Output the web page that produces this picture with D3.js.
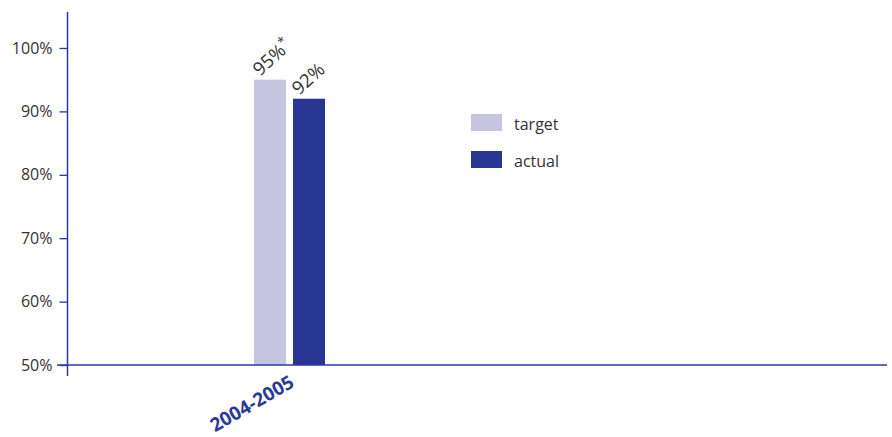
<!DOCTYPE html>
<html>
<head>
<meta charset="utf-8">
<script src="https://cdn.jsdelivr.net/npm/d3@7"></script>
<style>
  body { margin: 0; background: #fff; }
  text { font-family: "Open Sans", "Noto Sans", sans-serif; }
</style>
</head>
<body>
<div id="chart"></div>
<script>
// Data
const categories = ['2004-2005'];
const seriesNames = ['target', 'actual'];
const targetValues = [95];
const actualValues = [92];
const valueLabels = { target: ['95%'], actual: ['92%'] };
const labelMarks = { target: ['*'], actual: [''] };
const yTicks = [50, 60, 70, 80, 90, 100];

const width = 892, height = 437;
const colors = { target: '#c5c5e1', actual: '#283593' };
const axisColor = '#2b3a9a';
const textColor = '#333333';

const svg = d3.select('#chart').append('svg')
    .attr('width', width)
    .attr('height', height);

// Scales
const y = d3.scaleLinear().domain([50, 100]).range([365, 48]);
const x0 = d3.scaleBand().domain(categories).range([67, 512]);
const groupW = 71;
const x1 = d3.scaleBand().domain(seriesNames)
    .range([-groupW / 2, groupW / 2])
    .paddingInner(0.179);

const rows = categories.map((c, i) => ({
    cat: c,
    values: [
        { key: 'target', v: targetValues[i], label: valueLabels.target[i], mark: labelMarks.target[i] },
        { key: 'actual', v: actualValues[i], label: valueLabels.actual[i], mark: labelMarks.actual[i] }
    ]
}));

// Bars
const groups = svg.selectAll('.group')
    .data(rows)
    .enter()
    .append('g')
    .attr('class', 'group')
    .attr('transform', d => `translate(${x0(d.cat) + x0.bandwidth() / 2},0)`);

groups.selectAll('rect')
    .data(d => d.values)
    .enter()
    .append('rect')
    .attr('x', d => x1(d.key))
    .attr('width', x1.bandwidth())
    .attr('y', d => y(d.v))
    .attr('height', d => y(50) - y(d.v))
    .attr('fill', d => colors[d.key]);

// Value labels (rotated)
const vl = groups.selectAll('.vlabel')
    .data(d => d.values)
    .enter()
    .append('text')
    .attr('class', 'vlabel')
    .attr('transform', d => `translate(${x1(d.key) + 6},${y(d.v) - 3}) rotate(-42)`)
    .style('font-size', '18.5px')
    .style('fill', textColor);
vl.append('tspan').text(d => d.label);
vl.append('tspan')
    .attr('dy', -7)
    .style('font-size', '13px')
    .text(d => d.mark);

// Y axis
const yAxis = svg.append('g')
    .attr('transform', 'translate(67.5,0)')
    .call(d3.axisLeft(y).tickValues(yTicks).tickSize(8).tickFormat(d => d + '%'));
yAxis.select('.domain').remove();
yAxis.selectAll('line').attr('stroke', axisColor).attr('stroke-width', 1.3);
yAxis.selectAll('text')
    .attr('x', -15)
    .style('font-size', '16px')
    .style('fill', textColor)
    .style('font-family', '"Open Sans", "Noto Sans", sans-serif');

svg.append('line')
    .attr('x1', 67.5).attr('x2', 67.5)
    .attr('y1', 12).attr('y2', 376)
    .attr('stroke', axisColor).attr('stroke-width', 1.5);

// X axis baseline
svg.append('line')
    .attr('x1', 57).attr('x2', 887)
    .attr('y1', y(50)).attr('y2', y(50))
    .attr('stroke', axisColor).attr('stroke-width', 1.5);

// Category labels
svg.selectAll('.cat')
    .data(categories)
    .enter()
    .append('text')
    .attr('class', 'cat')
    .attr('text-anchor', 'end')
    .attr('transform', d => `translate(${x0(d) + x0.bandwidth() / 2 + 6},${y(50) + 21}) rotate(-30)`)
    .style('font-size', '19px')
    .style('font-weight', '700')
    .style('fill', axisColor)
    .text(d => d);

// Legend
const legend = svg.append('g').attr('transform', 'translate(471,114)');
seriesNames.forEach((s, i) => {
    const row = legend.append('g').attr('transform', `translate(0,${i * 37})`);
    row.append('rect')
        .attr('width', 31).attr('height', 17)
        .attr('fill', colors[s]);
    row.append('text')
        .attr('x', 43).attr('y', 16)
        .style('font-size', '16px')
        .style('fill', textColor)
        .text(s);
});
</script>
</body>
</html>
